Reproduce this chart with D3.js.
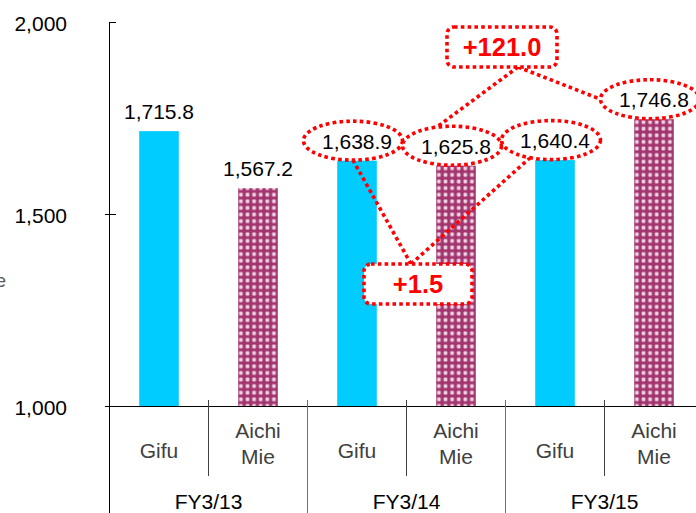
<!DOCTYPE html>
<html>
<head>
<meta charset="utf-8">
<script src="https://cdn.jsdelivr.net/npm/d3@7/dist/d3.min.js"></script>
<style>
  html, body { margin: 0; padding: 0; background: #fff; }
  svg { display: block; font-family: "Liberation Sans", Arial, sans-serif; }
</style>
</head>
<body>
<svg id="chart" width="696" height="513"></svg>
<script>
// Fiscal years and the two regions reported in each
const fiscalYears = ["FY3/13", "FY3/14", "FY3/15"];
const regions = ["Gifu", "Aichi\nMie"];
const gifuValues = [1715.8, 1638.9, 1640.4];
const aichiMieValues = [1567.2, 1625.8, 1746.8];
const yTicks = [1000, 1500, 2000];

// Year-on-year changes highlighted by the call-out boxes
const gifuChange = gifuValues[2] - gifuValues[1];
const aichiMieChange = aichiMieValues[2] - aichiMieValues[1];

const W = 696, H = 513;
const FS = 21;
const svg = d3.select("#chart");

// Flat list of bars: one per (year, region)
const bars = [];
fiscalYears.forEach((fy, i) => {
  bars.push({ key: fy + "|g", fy, region: regions[0], value: gifuValues[i], kind: "gifu" });
  bars.push({ key: fy + "|a", fy, region: regions[1], value: aichiMieValues[i], kind: "aichi" });
});

const x = d3.scaleBand()
  .domain(bars.map(d => d.key))
  .range([109.5, 703.5])
  .paddingInner(0.6)
  .paddingOuter(0.3);

const y = d3.scaleLinear().domain([1000, 2000]).range([406, 22]);

const RED = "#ff0000";
const CYAN = "#00ccff";

// Dotted fill used for the Aichi/Mie bars
const defs = svg.append("defs");
const pat = defs.append("pattern")
  .attr("id", "dots")
  .attr("patternUnits", "userSpaceOnUse")
  .attr("width", 6.6).attr("height", 6.6);
pat.append("rect").attr("width", 6.6).attr("height", 6.6).attr("fill", "#a2356e");
pat.append("rect").attr("x", 1.5).attr("y", 1.5).attr("width", 3.6).attr("height", 3.6)
  .attr("rx", 0.8)
  .attr("fill", "#efd2e3");

// Bars
svg.append("g").selectAll("rect")
  .data(bars)
  .join("rect")
  .attr("x", d => x(d.key))
  .attr("y", d => y(d.value))
  .attr("width", x.bandwidth())
  .attr("height", d => y(1000) - y(d.value))
  .attr("fill", d => d.kind === "gifu" ? CYAN : "url(#dots)");

// Y axis
const yAxisX = 109.5;
svg.append("line")
  .attr("x1", yAxisX).attr("x2", yAxisX)
  .attr("y1", y(2000)).attr("y2", H)
  .attr("stroke", "#000").attr("stroke-width", 1);

svg.append("g").selectAll("line")
  .data(yTicks)
  .join("line")
  .attr("x1", d => d === 2000 ? yAxisX : 105)
  .attr("x2", 116)
  .attr("y1", d => Math.round(y(d)) + 0.5)
  .attr("y2", d => Math.round(y(d)) + 0.5)
  .attr("stroke", "#000");

const fmt = d3.format(",");
svg.append("g").selectAll("text")
  .data(yTicks)
  .join("text")
  .attr("x", 67)
  .attr("y", d => y(d) + 8.5)
  .attr("text-anchor", "end")
  .attr("font-size", FS)
  .attr("fill", "#000")
  .text(d => fmt(d));

// Side caption, running off the left edge
svg.append("text")
  .attr("x", 6).attr("y", 287)
  .attr("text-anchor", "end")
  .attr("font-size", 19)
  .attr("fill", "#595959")
  .text("e");

// X axis baseline
svg.append("line")
  .attr("x1", yAxisX).attr("x2", W)
  .attr("y1", 406.5).attr("y2", 406.5)
  .attr("stroke", "#000");

// Category separators: short within a year, long between years
const step = x.step();
const x0 = x.range()[0];
for (let k = 1; k < bars.length; k++) {
  const xx = Math.round(x0 + k * step) - 0.5;
  const betweenYears = k % 2 === 0;
  svg.append("line")
    .attr("x1", xx).attr("x2", xx)
    .attr("y1", 400).attr("y2", betweenYears ? H : 476)
    .attr("stroke", betweenYears ? "#707070" : "#404040")
    .attr("stroke-width", 1);
}

// Region labels
const catG = svg.append("g").attr("fill", "#404040").attr("font-size", FS).attr("text-anchor", "middle");
bars.forEach(d => {
  const cx = x(d.key) + x.bandwidth() / 2;
  const lines = d.region.split("\n");
  if (lines.length === 1) {
    catG.append("text").attr("x", cx).attr("y", 458).text(lines[0]);
  } else {
    catG.append("text").attr("x", cx).attr("y", 438).text(lines[0]);
    catG.append("text").attr("x", cx).attr("y", 464).text(lines[1]);
  }
});

// Fiscal year labels
svg.append("g").selectAll("text")
  .data(fiscalYears)
  .join("text")
  .attr("x", (d, i) => x0 + (2 * i + 1) * step)
  .attr("y", 509)
  .attr("text-anchor", "middle")
  .attr("font-size", FS)
  .attr("fill", "#000")
  .text(d => d);

// Value label positions
const circled = new Set(["FY3/14|g", "FY3/14|a", "FY3/15|g", "FY3/15|a"]);
const labelPos = {};
bars.forEach(d => {
  const cx = x(d.key) + x.bandwidth() / 2;
  const base = y(d.value) - 12;
  labelPos[d.key] = { cx, base };
});

const dotted = sel => sel
  .attr("stroke", RED)
  .attr("stroke-width", 3.6)
  .attr("stroke-dasharray", "3.6 3.2");

function ellipseOf(key) {
  const p = labelPos[key];
  return { cx: p.cx - 4, cy: p.base - 8, rx: 49.5, ry: 19.5 };
}
function pointOn(e, angleDeg) {
  const a = angleDeg * Math.PI / 180;
  return [e.cx + e.rx * Math.cos(a), e.cy + e.ry * Math.sin(a)];
}

// Call-out boxes with connectors to the ellipses
const callouts = [
  {
    text: "+" + d3.format(".1f")(aichiMieChange),
    box: { x: 447, y: 27, w: 110, h: 40 },
    anchor: [518, 67],
    targets: [ { key: "FY3/14|a", angle: -108 }, { key: "FY3/15|a", angle: 180 } ]
  },
  {
    text: "+" + d3.format(".1f")(gifuChange),
    box: { x: 364, y: 264, w: 108, h: 40 },
    anchor: [411, 264],
    targets: [ { key: "FY3/14|g", angle: 90 }, { key: "FY3/15|g", angle: 115 } ]
  }
];

callouts.forEach(c => {
  c.targets.forEach(t => {
    const pt = pointOn(ellipseOf(t.key), t.angle);
    svg.append("line")
      .attr("x1", c.anchor[0]).attr("y1", c.anchor[1])
      .attr("x2", pt[0]).attr("y2", pt[1])
      .attr("fill", "none")
      .call(dotted);
  });
});

// Dotted ellipses around the compared values
bars.filter(d => circled.has(d.key)).forEach(d => {
  const e = ellipseOf(d.key);
  svg.append("ellipse")
    .attr("cx", e.cx).attr("cy", e.cy)
    .attr("rx", e.rx).attr("ry", e.ry)
    .attr("fill", "#fff")
    .call(dotted);
});

svg.append("g").selectAll("text")
  .data(bars)
  .join("text")
  .attr("x", d => labelPos[d.key].cx)
  .attr("y", d => labelPos[d.key].base)
  .attr("text-anchor", "middle")
  .attr("font-size", FS)
  .attr("fill", "#000")
  .text(d => d3.format(",.1f")(d.value));

callouts.forEach(c => {
  svg.append("rect")
    .attr("x", c.box.x).attr("y", c.box.y)
    .attr("width", c.box.w).attr("height", c.box.h)
    .attr("rx", 7).attr("ry", 7)
    .attr("fill", "#fff")
    .call(dotted);
  svg.append("text")
    .attr("x", c.box.x + c.box.w / 2)
    .attr("y", c.box.y + c.box.h / 2 + 9)
    .attr("text-anchor", "middle")
    .attr("font-size", 25.5)
    .attr("font-weight", "bold")
    .attr("fill", RED)
    .text(c.text);
});
</script>
</body>
</html>
